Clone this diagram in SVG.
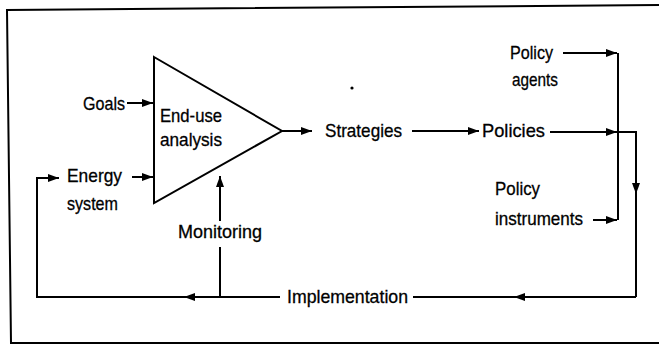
<svg xmlns="http://www.w3.org/2000/svg" width="659" height="346" viewBox="0 0 659 346">
<style>
.ln{fill:none;stroke:#000;stroke-width:2}
.t{font-family:"Liberation Sans",Arial,sans-serif;font-size:19px;fill:#000;stroke:#000;stroke-width:0.3}
</style>
<defs>
<marker id="ah" markerUnits="userSpaceOnUse" markerWidth="12" markerHeight="9" refX="11" refY="4" orient="auto">
<path d="M0,0 L11,4 L0,8 z" fill="#000"/>
</marker>
</defs>
<rect width="659" height="346" fill="#fff"/>
<g id="frame">
<path class="ln" d="M659,5 L7,10 L11,343 L659,343"/>
</g>
<g id="connectors">
<path class="ln" d="M127,103 L153,103" marker-end="url(#ah)"/>
<path class="ln" d="M132,177 L153,177" marker-end="url(#ah)"/>
<path class="ln" d="M282,131 L312,131" marker-end="url(#ah)"/>
<path class="ln" d="M412,131 L479,131" marker-end="url(#ah)"/>
<path class="ln" d="M550,132 L617,132" marker-end="url(#ah)"/>
<path class="ln" d="M617,132 L636,132 L636,297"/>
<path class="ln" d="M636,132 L636,194" marker-end="url(#ah)"/>
<path class="ln" d="M563,53 L617,53" marker-end="url(#ah)"/>
<path class="ln" d="M618,53 L618,220"/>
<path class="ln" d="M593,220 L617,220" marker-end="url(#ah)"/>
<path class="ln" d="M636,297 L514,297" marker-end="url(#ah)"/>
<path class="ln" d="M514,297 L413,297"/>
<path class="ln" d="M280,297 L184,297" marker-end="url(#ah)"/>
<path class="ln" d="M184,297 L37,297 L37,178 L59,178" marker-end="url(#ah)"/>
<path class="ln" d="M220,297 L220,247"/>
<path class="ln" d="M220,221 L220,176" marker-end="url(#ah)"/>
</g>
<g id="end-use-analysis">
<polygon class="ln" points="154,57 282,131 154,203"/>
<text class="t" x="160" y="122" textLength="62" lengthAdjust="spacingAndGlyphs">End-use</text>
<text class="t" x="160" y="146" textLength="62" lengthAdjust="spacingAndGlyphs">analysis</text>
</g>
<g id="goals"><text class="t" x="83" y="110" textLength="42" lengthAdjust="spacingAndGlyphs">Goals</text></g>
<g id="energy-system">
<text class="t" x="67" y="182" textLength="55" lengthAdjust="spacingAndGlyphs">Energy</text>
<text class="t" x="67" y="210" textLength="51" lengthAdjust="spacingAndGlyphs">system</text>
</g>
<g id="strategies"><text class="t" x="325" y="137" textLength="77" lengthAdjust="spacingAndGlyphs">Strategies</text></g>
<g id="policies"><text class="t" x="482" y="137" textLength="63" lengthAdjust="spacingAndGlyphs">Policies</text></g>
<g id="policy-agents">
<text class="t" x="510" y="59" textLength="43" lengthAdjust="spacingAndGlyphs">Policy</text>
<text class="t" x="512" y="86" textLength="46" lengthAdjust="spacingAndGlyphs">agents</text>
</g>
<g id="policy-instruments">
<text class="t" x="495" y="195" textLength="45" lengthAdjust="spacingAndGlyphs">Policy</text>
<text class="t" x="495" y="225" textLength="88" lengthAdjust="spacingAndGlyphs">instruments</text>
</g>
<g id="monitoring"><text class="t" x="178" y="238" textLength="84" lengthAdjust="spacingAndGlyphs">Monitoring</text></g>
<g id="implementation"><text class="t" x="287" y="303" textLength="121" lengthAdjust="spacingAndGlyphs">Implementation</text></g>
<circle cx="352" cy="88" r="1.6" fill="#000"/>
</svg>
